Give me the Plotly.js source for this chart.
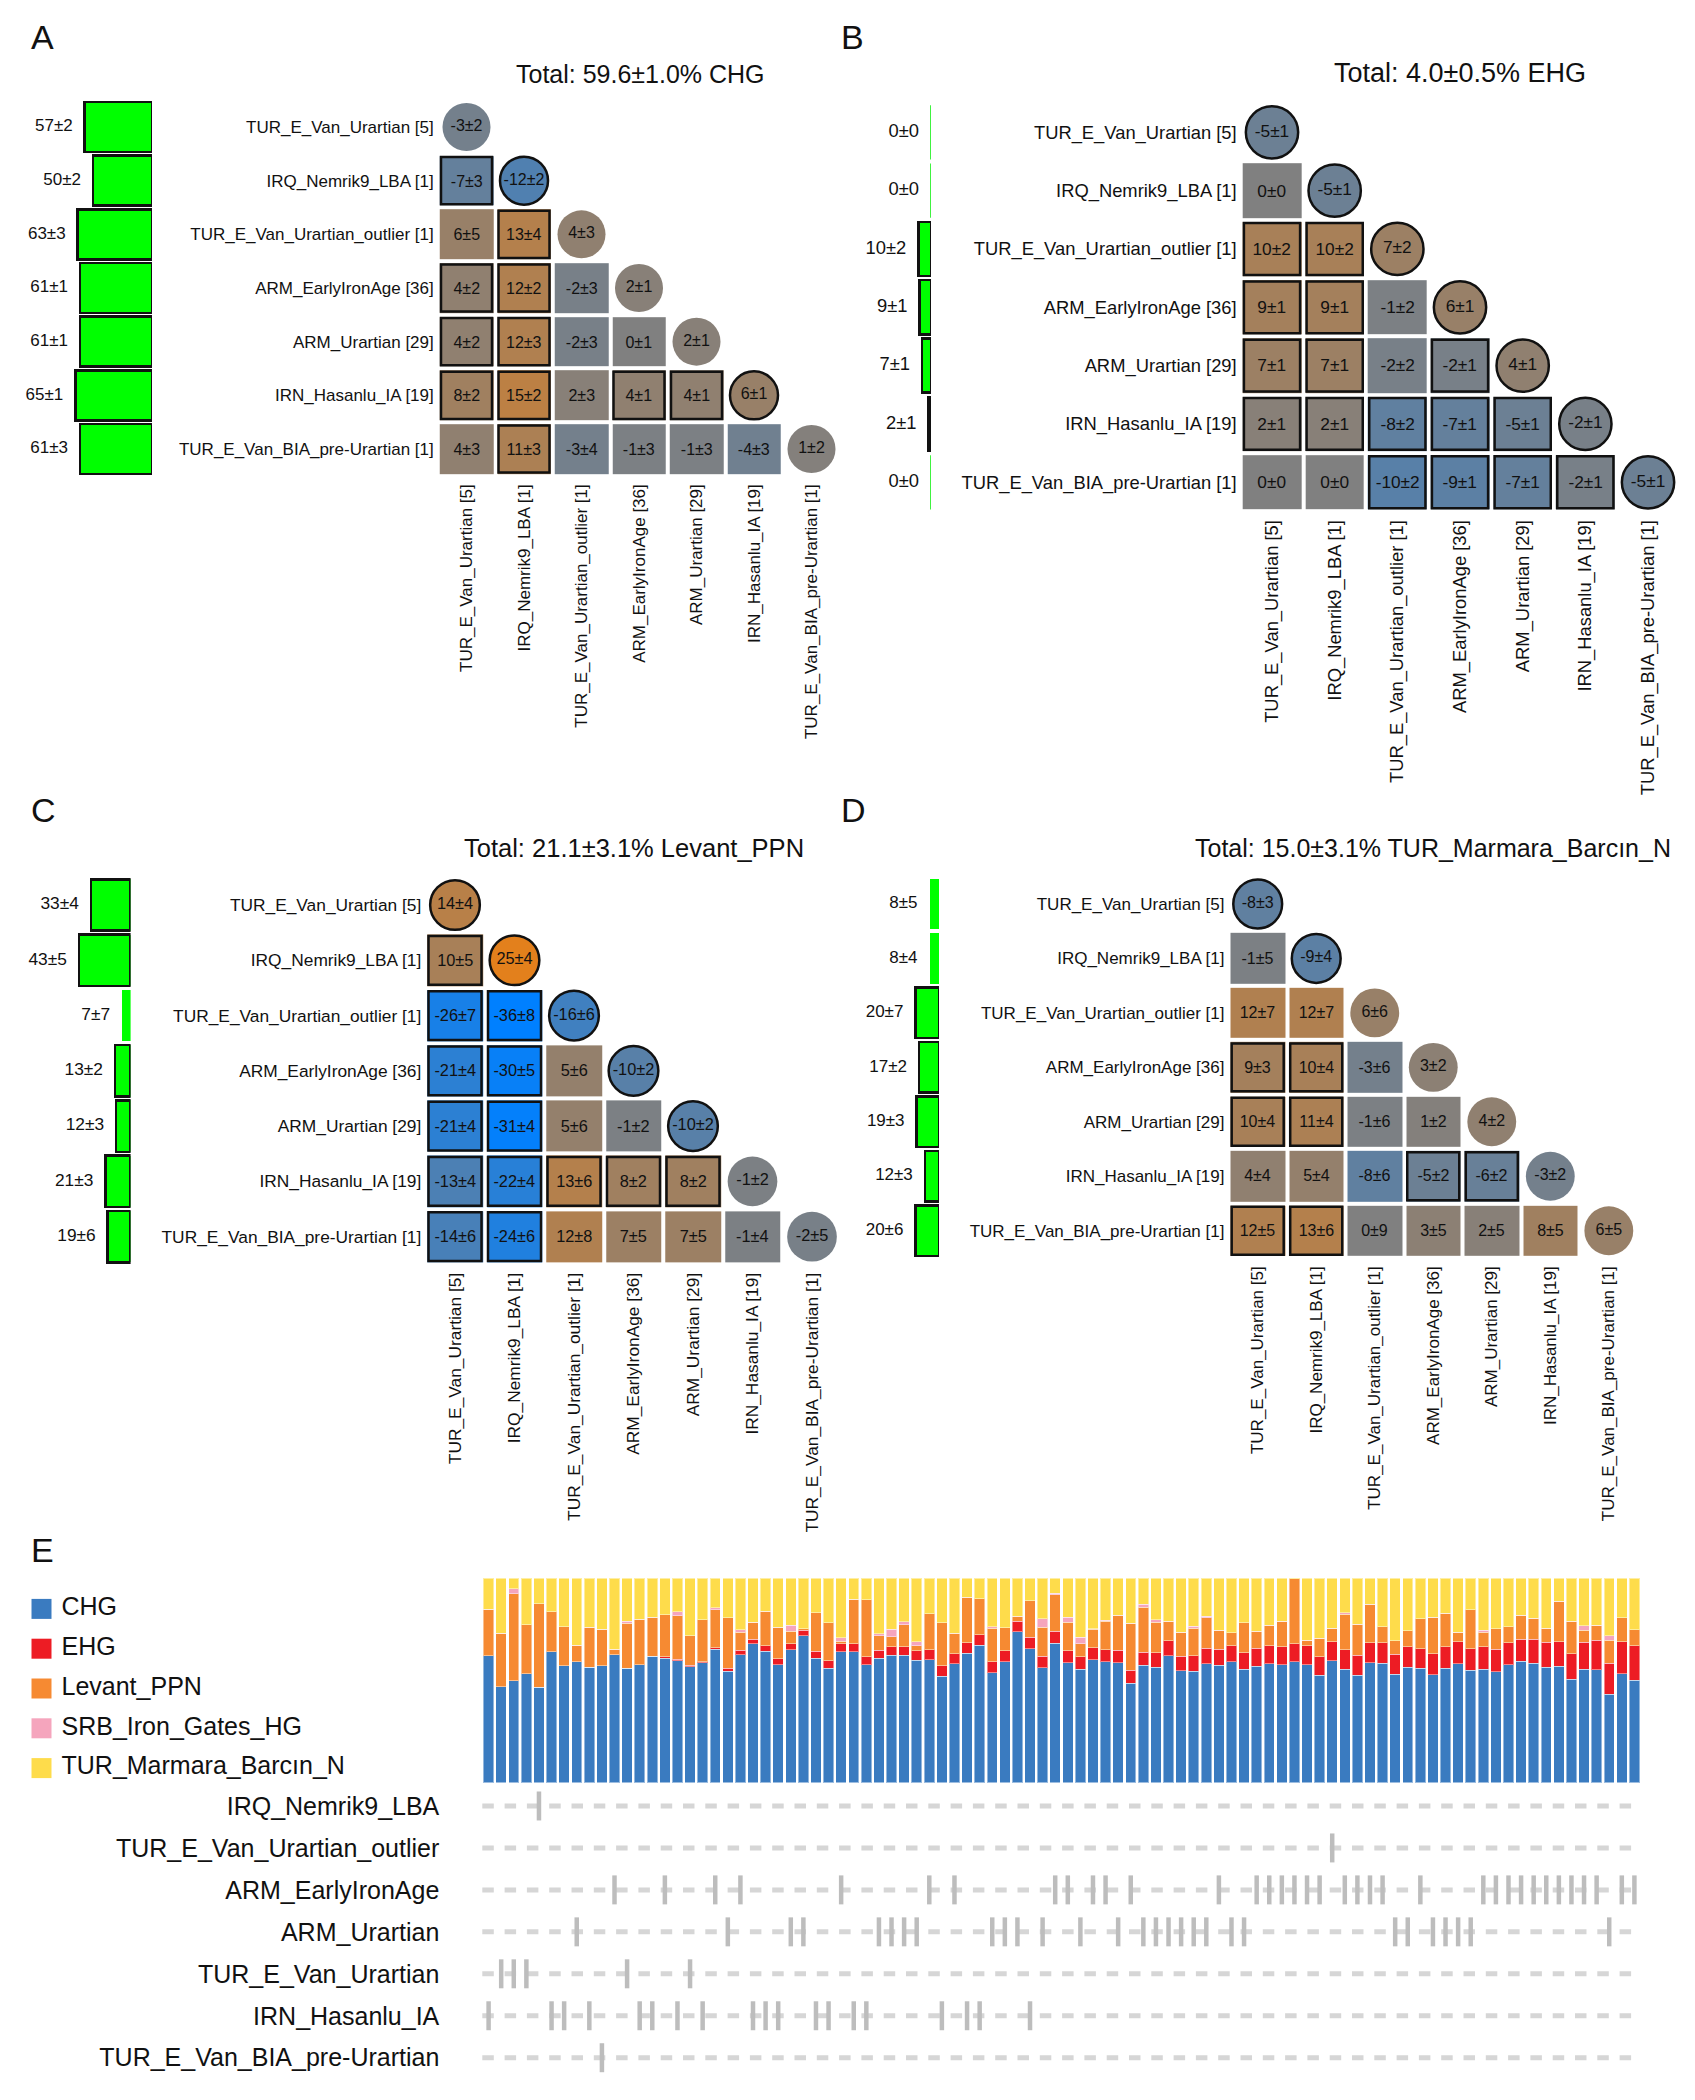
<!DOCTYPE html>
<html><head><meta charset="utf-8">
<script src="https://cdn.plot.ly/plotly-3.0.1.min.js"></script>
<style>body{margin:0;background:#fff}#chart{width:1695px;height:2100px}</style>
</head><body><div id="chart"></div>
<script>
// ---------------- DATA ----------------
const popLabels = ['TUR_E_Van_Urartian [5]','IRQ_Nemrik9_LBA [1]','TUR_E_Van_Urartian_outlier [1]','ARM_EarlyIronAge [36]','ARM_Urartian [29]','IRN_Hasanlu_IA [19]','TUR_E_Van_BIA_pre-Urartian [1]'];
const panelLetters = ['A','B','C','D'];
const panelTitles = ['Total: 59.6±1.0% CHG','Total: 4.0±0.5% EHG','Total: 21.1±3.1% Levant_PPN','Total: 15.0±3.1% TUR_Marmara_Barcın_N'];

// Panel A: CHG
const chgCell = [[-3],[-7,-12],[6,13,4],[4,12,-2,2],[4,12,-2,0,2],[8,15,2,4,4,6],[4,11,-3,-1,-1,-4,1]];
const chgCellErr = [[2],[3,2],[5,4,3],[2,2,3,1],[2,3,3,1,1],[2,2,3,1,1,1],[3,3,4,3,3,3,2]];
const chgCellSig = [[0],[1,1],[0,1,0],[1,1,0,0],[1,1,0,0,0],[1,1,0,1,1,1],[0,1,0,0,0,0,0]];
const chgBar = [57,50,63,61,61,65,61];
const chgBarErr = [2,2,3,1,1,1,3];
const chgBarSig = [1,1,1,1,1,1,1];

// Panel B: EHG
const ehgCell = [[-5],[0,-5],[10,10,7],[9,9,-1,6],[7,7,-2,-2,4],[2,2,-8,-7,-5,-2],[0,0,-10,-9,-7,-2,-5]];
const ehgCellErr = [[1],[0,1],[2,2,2],[1,1,2,1],[1,1,2,1,1],[1,1,2,1,1,1],[0,0,2,1,1,1,1]];
const ehgCellSig = [[1],[0,1],[1,1,1],[1,1,0,1],[1,1,0,1,1],[1,1,1,1,1,1],[0,0,1,1,1,1,1]];
const ehgBar = [0,0,10,9,7,2,0];
const ehgBarErr = [0,0,2,1,1,1,0];
const ehgBarSig = [0,0,1,1,1,1,0];

// Panel C: Levant_PPN
const levCell = [[14],[10,25],[-26,-36,-16],[-21,-30,5,-10],[-21,-31,5,-1,-10],[-13,-22,13,8,8,-1],[-14,-24,12,7,7,-1,-2]];
const levCellErr = [[4],[5,4],[7,8,6],[4,5,6,2],[4,4,6,2,2],[4,4,6,2,2,2],[6,6,8,5,5,4,5]];
const levCellSig = [[1],[1,1],[1,1,1],[1,1,0,1],[1,1,0,0,1],[1,1,1,1,1,0],[1,1,0,0,0,0,0]];
const levBar = [33,43,7,13,12,21,19];
const levBarErr = [4,5,7,2,3,3,6];
const levBarSig = [1,1,0,1,1,1,1];

// Panel D: TUR_Marmara_Barcın_N
const turCell = [[-8],[-1,-9],[12,12,6],[9,10,-3,3],[10,11,-1,1,4],[4,5,-8,-5,-6,-3],[12,13,0,3,2,8,6]];
const turCellErr = [[3],[5,4],[7,7,6],[3,4,6,2],[4,4,6,2,2],[4,4,6,2,2,2],[5,6,9,5,5,5,5]];
const turCellSig = [[1],[0,1],[0,0,0],[1,1,0,0],[1,1,0,0,0],[0,0,0,1,1,0],[1,1,0,0,0,0,0]];
const turBar = [8,8,20,17,19,12,20];
const turBarErr = [5,4,7,2,3,3,6];
const turBarSig = [0,0,1,1,1,1,1];

// Panel E: per-sample ancestry (%)
const compNames = ['CHG','EHG','Levant_PPN','SRB_Iron_Gates_HG','TUR_Marmara_Barcın_N'];
const sampleCHG = [62.2,47.0,49.8,53.2,46.8,64.1,57.1,59.1,56.6,57.1,62.5,56.1,57.7,61.8,60.8,59.7,56.8,58.6,65.3,54.6,
  62.5,68.0,64.4,57.7,65.1,71.8,60.8,56.0,64.1,64.1,57.8,61.0,62.3,62.3,60.0,60.2,52.2,58.1,63.3,67.2,
  53.7,59.1,73.9,65.6,56.3,68.2,58.7,55.5,60.2,59.1,58.7,48.6,57.4,56.6,62.2,54.8,54.6,58.2,57.4,59.1,
  55.4,56.9,58.1,57.6,59.1,57.6,52.5,59.7,55.5,52.5,58.7,58.4,53.0,56.6,56.0,52.7,56.0,58.2,55.0,55.6,
  54.3,57.6,59.4,58.4,56.6,56.9,50.7,55.6,55.3,43.2,53.3,50.1];
const sampleEHG = [0,0,0,0,0,0,0,0,0,0,0,0,0,0,0.7,0.7,0.7,0.5,0.8,1.3,
  2.4,2.3,2.6,2.9,2.9,2.8,3.4,3.6,3.9,3.9,3.8,3.9,4.1,4.1,4.6,4.9,4.9,4.9,5.2,5.2,
  5.5,5.5,5.2,5.5,5.5,5.9,5.9,6.2,5.9,6.0,6.2,6.4,6.5,7.0,7.2,7.0,7.5,7.7,8.0,7.8,
  8.2,9.0,8.8,8.8,8.8,9.3,9.1,9.3,9.5,9.8,9.8,10.1,9.8,10.0,9.6,10.3,10.6,10.8,10.6,10.9,
  10.9,10.9,10.9,11.7,12.1,12.1,12.4,13.1,14.5,15.3,15.7,17.0];
const sampleLEV = [22.7,26.1,42.7,24.0,40.8,19.6,19.2,8.2,19.4,17.9,2.9,21.9,22.3,19.1,20.7,21.2,14.5,20.6,18.4,24.8,
  8.8,8.3,17.0,15.5,6.2,0.7,18.9,18.6,1.3,21.7,27.9,6.9,5.1,10.8,2.4,17.5,21.2,10.1,22.2,17.6,
  16.3,11.3,2.4,17.8,14.2,17.9,14.0,6.2,9.0,13.9,17.0,23.0,22.0,15.0,9.6,11.9,13.4,14.8,9.3,6.4,
  14.7,8.2,10.1,12.6,31.8,2.9,9.0,6.5,17.5,15.2,18.8,7.8,6.7,7.7,14.5,17.9,16.3,4.6,18.9,7.2,
  10.1,7.7,11.6,10.4,6.9,19.7,16.0,6.0,7.3,11.3,11.6,7.8];
const sampleSRB = [0,0,2.3,0,0,0,0,0,0,0,0,1.0,0,0,0,2.0,0,0,1.0,0,
  1.1,0,0,0,2.9,0,0,0,1.6,0,0,1.0,3.6,1.5,2.0,0,0,0,0,0,
  0.8,0,0,0,4.1,0.7,2.4,3.3,0.3,0.5,0,0,1.5,1.1,0,0,1.0,0.8,0,0,
  0,0,0,0,0,0,0,0,0.7,0,0,0,0,0,0,0,0,0,0,1.0,
  0,0,0,0,0,0,0,2.0,0,2.1,0,0];
const sampleTUR = [15.1,26.9,5.2,22.8,12.4,16.3,23.7,32.7,24.0,25.0,34.6,21.0,20.0,19.1,17.8,16.4,28.0,20.3,14.5,19.3,
  25.2,21.4,16.0,23.9,22.9,24.7,16.9,21.8,29.1,10.3,10.5,27.2,24.9,21.3,31.0,17.4,21.7,26.9,9.3,10.0,
  23.7,24.1,18.5,11.1,19.9,7.3,19.0,28.8,24.6,20.5,18.1,22.0,12.6,20.3,21.0,26.3,23.5,18.5,25.3,26.7,
  21.7,25.9,23.0,21.0,0.3,30.2,29.4,24.5,16.8,22.5,12.7,23.7,30.5,25.7,19.9,19.1,17.1,26.4,15.5,25.3,
  24.7,23.8,18.1,19.5,24.4,11.3,20.9,23.3,22.9,28.1,19.4,25.1];

const presenceGroups = ['IRQ_Nemrik9_LBA','TUR_E_Van_Urartian_outlier','ARM_EarlyIronAge','ARM_Urartian','TUR_E_Van_Urartian','IRN_Hasanlu_IA','TUR_E_Van_BIA_pre-Urartian'];
// index into presenceGroups for each sample (bar)
const sampleGroup = [5,4,4,4,0,5,5,3,5,6, 2,4,5,5,2,5,4,5,2,3, 2,5,5,5,3,3,5,5,2,5,
  5,3,3,3,3,2,5,2,5,5, 3,3,3,5,3,2,2,3,2,2, 3,2,3,3,3,3,3,3,2,3, 3,2,2,2,2,2,2,1,2,2,
  2,2,3,3,2,3,3,3,3,2, 2,2,2,2,2,2,2,2,2,3, 2,2];

// ---------------- STYLE / LAYOUT ----------------
const W = 1695, H = 2100;
const FONT = 'Liberation Sans, Arial, Helvetica, sans-serif';
const xd = (a,b)=>[a/W, b/W];
const yd = (a,b)=>[1-b/H, 1-a/H];
const TXT = '#111';
const divScale = [[0,'rgb(0,128,255)'],[0.5,'rgb(128,128,128)'],[1,'rgb(255,128,0)']];
const compColors = ['#3a7bc0','#ed1c24','#f68a32','#f5a5bd','#fedc4b'];

const panelData = [
  {cell:chgCell, err:chgCellErr, sig:chgCellSig, bar:chgBar, barErr:chgBarErr, barSig:chgBarSig},
  {cell:ehgCell, err:ehgCellErr, sig:ehgCellSig, bar:ehgBar, barErr:ehgBarErr, barSig:ehgBarSig},
  {cell:levCell, err:levCellErr, sig:levCellSig, bar:levBar, barErr:levBarErr, barSig:levBarSig},
  {cell:turCell, err:turCellErr, sig:turCellSig, bar:turBar, barErr:turBarErr, barSig:turBarSig}
];
const panelStyle = [
  {cx0:466.5, px:57.5, cy0:127, py:53.67, barRight:152, s:1.0, titleX:640, titleY:74, letterX:29, letterY:37},
  {cx0:1272, px:62.67, cy0:132.3, py:58.33, barRight:931, s:1.08, titleX:1460, titleY:73, letterX:839, letterY:37},
  {cx0:455, px:59.5, cy0:905, py:55.28, barRight:130.6, s:1.02, titleX:634, titleY:848, letterX:29, letterY:810},
  {cx0:1257.7, px:58.52, cy0:904, py:54.45, barRight:939, s:1.0, titleX:1433, titleY:848, letterX:839, letterY:810}
];

function ax(domain, extra){
  return Object.assign({domain:domain, showgrid:false, zeroline:false, showline:false, ticks:'',
    showticklabels:false, fixedrange:true, automargin:false}, extra||{});
}

const traces = [];
const shapes = [];
const annotations = [];
const layout = {
  width:W, height:H, margin:{l:0,r:0,t:0,b:0,pad:0},
  paper_bgcolor:'#fff', plot_bgcolor:'rgba(0,0,0,0)', showlegend:false,
  barmode:'stack', bargap:0.17, font:{family:FONT, color:TXT},
  hovermode:false
};

const fmt = (v,e)=> v + '±' + e;

panelData.forEach((pd, i) => {
  const st = panelStyle[i];
  const n = popLabels.length;
  const idx = popLabels.map((_,k)=>k);
  const xb = 'x'+(2*i+1), xh = 'x'+(2*i+2), yy = 'y'+(i+1);
  const xbKey = i===0 ? 'xaxis' : 'xaxis'+(2*i+1);
  const xhKey = 'xaxis'+(2*i+2);
  const yKey = i===0 ? 'yaxis' : 'yaxis'+(i+1);
  const hx0 = st.cx0 - st.px/2, hx1 = st.cx0 + (n-0.5)*st.px;
  const hy0 = st.cy0 - st.py/2, hy1 = st.cy0 + (n-0.5)*st.py;
  layout[xhKey] = ax(xd(hx0,hx1), {anchor:yy, range:[-0.5,n-0.5], showticklabels:true, tickmode:'array',
    tickvals:idx, ticktext:popLabels, tickangle:-90, ticklabelstandoff:4,
    tickfont:{size:17*st.s, family:FONT, color:TXT}});
  layout[xbKey] = ax(xd(st.barRight-118*st.s, st.barRight), {anchor:yy, range:[100,0]});
  layout[yKey] = ax(yd(hy0,hy1), {anchor:xh, range:[n-0.5,-0.5], showticklabels:true, tickmode:'array',
    tickvals:idx, ticktext:popLabels, ticklabelstandoff:3,
    tickfont:{size:17*st.s, family:FONT, color:TXT}});

  // off-diagonal cells
  const z = [], t = [];
  for (let r=0;r<n;r++){
    const zr=[], tr=[];
    for (let c=0;c<n;c++){
      if (c<r){ zr.push(pd.cell[r][c]); tr.push(fmt(pd.cell[r][c], pd.err[r][c])); }
      else { zr.push(null); tr.push(''); }
    }
    z.push(zr); t.push(tr);
  }
  const gap = 4;
  traces.push({type:'heatmap', x:idx, y:idx, z:z, text:t, texttemplate:'%{text}',
    textfont:{size:16*st.s, color:TXT, family:FONT}, colorscale:divScale, zmin:-32, zmax:32,
    showscale:false, xgap:gap, ygap:gap, xaxis:xh, yaxis:yy, hoverinfo:'skip'});
  // significance borders
  const lw = 2.5;
  const hw = 0.5 - (gap/2 + lw/2)/st.px, hh = 0.5 - (gap/2 + lw/2)/st.py;
  for (let r=0;r<n;r++) for (let c=0;c<r;c++){
    if (pd.sig[r][c]) shapes.push({type:'rect', xref:xh, yref:yy, x0:c-hw, x1:c+hw, y0:r-hh, y1:r+hh,
      line:{color:'#111', width:lw}, fillcolor:'rgba(0,0,0,0)', layer:'above'});
  }
  // diagonal circles
  const dv = idx.map(k=>pd.cell[k][k]);
  traces.push({type:'scatter', mode:'markers+text', x:idx, y:idx, cliponaxis:false,
    text: idx.map(k=>fmt(pd.cell[k][k], pd.err[k][k])), textposition:'middle center',
    textfont:{size:16*st.s, color:TXT, family:FONT},
    marker:{symbol:'circle', size:0.835*st.px, color:dv, colorscale:divScale, cmin:-32, cmax:32,
      line:{color:'#111', width: idx.map(k=>pd.sig[k][k]?2.5:0)}},
    xaxis:xh, yaxis:yy, hoverinfo:'skip'});
  // green bars
  traces.push({type:'bar', orientation:'h', x:pd.bar, y:idx, width:0.93, base:0,
    marker:{color:'#00ff00', line:{color:'#111', width: pd.barSig.map(v=>v?2.5:0)}},
    xaxis:xb, yaxis:yy, hoverinfo:'skip'});
  // zero-value bars: thin green line
  const zx=[], zy=[];
  pd.bar.forEach((v,k)=>{ if (v===0){ zx.push(0,0,null); zy.push(k-0.465,k+0.465,null); } });
  if (zx.length) traces.push({type:'scatter', mode:'lines', x:zx, y:zy, line:{color:'#00ee00', width:1.5},
    xaxis:xb, yaxis:yy, cliponaxis:false, hoverinfo:'skip'});
  // bar value labels
  traces.push({type:'scatter', mode:'markers+text', x:pd.bar, y:idx, cliponaxis:false,
    text: pd.bar.map((v,k)=>fmt(v, pd.barErr[k])), textposition:'middle left',
    textfont:{size:17*st.s, color:TXT, family:FONT},
    marker:{size:17.6, color:'rgba(0,0,0,0)', line:{width:0}},
    xaxis:xb, yaxis:yy, hoverinfo:'skip'});
  // title + letter
  annotations.push({xref:'paper', yref:'paper', x:st.titleX/W, y:1-st.titleY/H, xanchor:'center', yanchor:'middle',
    text:panelTitles[i], showarrow:false, font:{size:25*st.s, family:FONT, color:TXT}});
  annotations.push({xref:'paper', yref:'paper', x:st.letterX/W, y:1-st.letterY/H, xanchor:'left', yanchor:'middle',
    text:panelLetters[i], showarrow:false, font:{size:34, family:FONT, color:TXT}});
});

// ---------------- PANEL E ----------------
const sampleIdx = sampleCHG.map((_,k)=>k);
const nS = sampleIdx.length;
layout.xaxis9 = ax(xd(482.3,1640.7), {anchor:'y5', range:[-0.5, nS-0.5]});
layout.yaxis5 = ax(yd(1578.3,1782.7), {anchor:'x9', range:[0,100]});
layout.xaxis10 = ax(xd(482.3,1640.7), {anchor:'y6', matches:'x9', range:[-0.5, nS-0.5]});
layout.yaxis6 = ax(yd(1785,2078.7), {anchor:'x10', range:[presenceGroups.length-0.5,-0.5], showticklabels:true,
  tickmode:'array', tickvals:presenceGroups.map((_,k)=>k), ticktext:presenceGroups, ticklabelstandoff:42,
  tickfont:{size:25, family:FONT, color:TXT}});

[sampleCHG, sampleEHG, sampleLEV, sampleSRB, sampleTUR].forEach((vals,k)=>{
  traces.push({type:'bar', x:sampleIdx, y:vals, name:compNames[k],
    marker:{color:compColors[k], line:{color:'rgba(255,255,255,0.45)', width:1}},
    xaxis:'x9', yaxis:'y5', hoverinfo:'skip'});
});
presenceGroups.forEach((g,k)=>{
  shapes.push({type:'line', xref:'x10 domain', x0:0, x1:1, yref:'y6', y0:k, y1:k,
    line:{color:'#d6d6d6', width:5, dash:'11.5px,10.8px'}, layer:'below'});
});
traces.push({type:'scatter', mode:'markers', x:sampleIdx, y:sampleGroup, cliponaxis:false,
  marker:{symbol:'line-ns-open', size:20.7, color:'#bdbdbd', line:{color:'#bdbdbd', width:4.5}},
  xaxis:'x10', yaxis:'y6', hoverinfo:'skip'});

// custom legend for panel E
layout.xaxis11 = ax(xd(41.5,441.5), {anchor:'y7', range:[0,10]});
layout.yaxis7 = ax(yd(1589,1788), {anchor:'x11', range:[compNames.length-0.5,-0.5]});
const legIdx = compNames.map((_,k)=>k);
traces.push({type:'scatter', mode:'markers', x:legIdx.map(()=>0), y:legIdx, cliponaxis:false,
  marker:{symbol:'square', size:20, color:compColors, line:{width:0}}, xaxis:'x11', yaxis:'y7', hoverinfo:'skip'});
traces.push({type:'scatter', mode:'markers+text', x:legIdx.map(()=>0), y:legIdx, cliponaxis:false,
  text:compNames, textposition:'middle right', textfont:{size:25, family:FONT, color:TXT},
  marker:{size:30.4, color:'rgba(0,0,0,0)', line:{width:0}}, xaxis:'x11', yaxis:'y7', hoverinfo:'skip'});
annotations.push({xref:'paper', yref:'paper', x:29/W, y:1-1550/H, xanchor:'left', yanchor:'middle',
  text:'E', showarrow:false, font:{size:34, family:FONT, color:TXT}});

layout.shapes = shapes;
layout.annotations = annotations;
Plotly.newPlot('chart', traces, layout, {staticPlot:true, displayModeBar:false});
</script>
</body></html>
